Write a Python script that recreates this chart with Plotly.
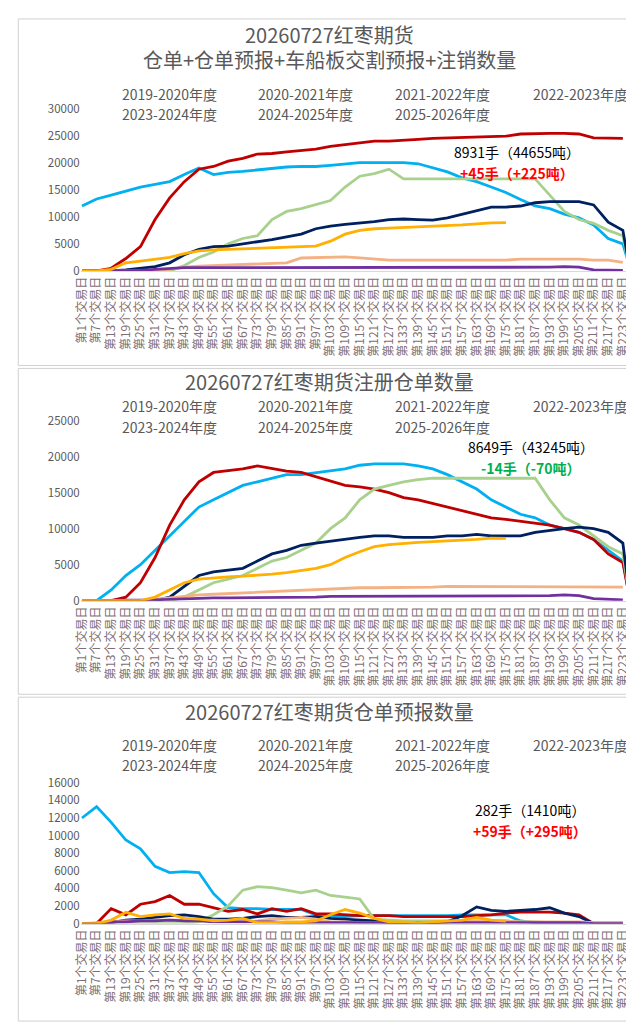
import plotly.graph_objects as go

DAYS = list(range(1, 224, 6)) + [226]
TICK_TEXT = [f"第{d}个交易日" for d in DAYS[:-1]]

SEASONS = ["2019-2020年度", "2020-2021年度", "2021-2022年度", "2022-2023年度",
           "2023-2024年度", "2024-2025年度", "2025-2026年度"]
COLORS = ["#00B0F0", "#C00000", "#A9D18E", "#002060", "#F4B183", "#7030A0", "#FFB000"]
N = None

# chart 1: 仓单+仓单预报+车船板交割预报+注销数量
P1_BLUE = [12000, 13300, 14000, 14700, 15500, 16000, 16500, 17800, 19000, 17800, 18200, 18400, 18700,
           19000, 19200, 19300, 19300, 19500, 19700, 20000, 20000, 20000, 20000, 19800, 19000, 18300,
           17200, 16500, 15500, 14500, 13200, 12000, 11500, 10500, 9800, 8500, 6000, 5000, 500]
P1_RED = [0, 0, 500, 2300, 4500, 9500, 13500, 16500, 18800, 19300, 20300, 20800, 21600, 21700, 22000,
          22300, 22500, 23000, 23300, 23700, 24000, 24000, 24100, 24300, 24500, 24600, 24700, 24700,
          24800, 24900, 25300, 25400, 25400, 25400, 25300, 24600, 24600, 24500, N]
P1_GREEN = [0, 0, 0, 0, 0, 0, 0, 1000, 2500, 3500, 5000, 6000, 6500, 9500, 11000, 11500, 12200, 13000,
            15500, 17500, 18000, 18800, 17000, 17000, 17000, 17000, 17000, 17000, 17000, 17000, 17000,
            17000, 14000, 11000, 9500, 8800, 7500, 6500, 0]
P1_NAVY = [0, 0, 0, 200, 500, 800, 1500, 3000, 4000, 4500, 4600, 5000, 5300, 5800, 6300, 6800, 7800,
           8300, 8600, 8800, 9100, 9500, 9600, 9500, 9400, 9800, 10500, 11200, 11800, 11800, 12000,
           12600, 12800, 12800, 12800, 12200, 9000, 7500, 0]
P1_SALMON = [0, 0, 0, 0, 0, 0, 300, 700, 900, 1000, 1100, 1200, 1300, 1400, 1500, 2400, 2500, 2500, 2600,
             2400, 2200, 2000, 2000, 2000, 2000, 2000, 2000, 2000, 2000, 2000, 2200, 2200, 2200, 2200,
             2200, 2000, 2000, 1600, N]
P1_PURPLE = [0, 0, 0, 0, 100, 300, 500, 600, 600, 600, 600, 600, 600, 600, 600, 600, 600, 600, 600, 600,
             700, 700, 700, 700, 700, 700, 700, 700, 700, 700, 700, 700, 700, 800, 700, 200, 100, 100, N]
P1_ORANGE = [0, 0, 300, 1500, 1800, 2200, 2500, 3200, 3700, 3900, 4000, 4200, 4200, 4300, 4400, 4500,
             4600, 5500, 6800, 7500, 7800, 7900, 8000, 8100, 8200, 8300, 8500, 8700, 8900, 8931,
             N, N, N, N, N, N, N, N, N]

# chart 2: 注册仓单数量
P2_BLUE = [0, 0, 1500, 3500, 5000, 7000, 9000, 11000, 13000, 14000, 15000, 16000, 16500, 17000, 17500,
           17500, 17800, 18000, 18300, 18800, 19000, 19000, 19000, 18700, 18300, 17500, 16500, 15500,
           14000, 13000, 12000, 11500, 10500, 10000, 9500, 8500, 7000, 5500, 0]
P2_RED = [0, 0, 0, 500, 2500, 6000, 10500, 14000, 16500, 17800, 18000, 18300, 18700, 18300, 18000,
          17800, 17200, 16500, 16000, 15800, 15500, 15000, 14300, 14000, 13500, 13000, 12500, 12000,
          11500, 11300, 11000, 10800, 10500, 10000, 9500, 8500, 6500, 5300, 0]
P2_GREEN = [0, 0, 0, 0, 0, 0, 0, 500, 1500, 2500, 3000, 3500, 4500, 5500, 6000, 7000, 8000, 10000,
            11500, 14000, 15500, 16000, 16500, 16800, 17000, 17000, 17000, 17000, 17000, 17000, 17000,
            17000, 14000, 11500, 10500, 9000, 7500, 6500, 0]
P2_NAVY = [0, 0, 0, 0, 0, 0, 500, 2000, 3500, 4000, 4200, 4500, 5500, 6500, 7000, 7700, 8000, 8300,
           8500, 8800, 9000, 9000, 8800, 8800, 8800, 9000, 9000, 9200, 9000, 9000, 9000, 9500, 9800,
           10000, 10200, 10000, 9500, 8000, 0]
P2_SALMON = [0, 0, 0, 0, 0, 200, 400, 700, 800, 900, 1000, 1100, 1200, 1300, 1400, 1500, 1600, 1700,
             1700, 1800, 1800, 1800, 1900, 1900, 1900, 2000, 2000, 2000, 2000, 2000, 2000, 2000, 2000,
             2000, 2000, 2000, 2000, 1900, N]
P2_PURPLE = [0, 0, 0, 0, 0, 100, 200, 300, 300, 400, 400, 400, 500, 500, 500, 500, 500, 600, 600, 600,
             600, 600, 600, 600, 700, 700, 700, 700, 700, 700, 700, 700, 700, 800, 700, 300, 200, 100, N]
P2_ORANGE = [0, 0, 0, 0, 0, 500, 1500, 2500, 3000, 3200, 3300, 3400, 3500, 3700, 3900, 4200, 4500, 5000,
             6000, 6800, 7500, 7800, 8000, 8100, 8200, 8300, 8300, 8500, 8700, 8649,
             N, N, N, N, N, N, N, N, N]

# chart 3: 仓单预报数量
P3_BLUE = [12000, 13300, 11500, 9500, 8500, 6500, 5800, 5900, 5800, 3400, 1800, 1700, 1700, 1600, 1600,
           1600, 1000, 900, 800, 900, 900, 900, 900, 900, 900, 900, 1000, 1000, 1000, 1000, 300, 100,
           100, 100, 100, 100, 100, 100, N]
P3_RED = [0, 0, 1700, 1000, 2200, 2500, 3200, 2200, 2200, 1800, 1400, 1600, 1100, 1700, 1400, 1700,
          1100, 1100, 1000, 900, 900, 900, 800, 800, 800, 800, 800, 900, 1000, 1200, 1300, 1300, 1300,
          1200, 1000, 0, 0, 0, N]
P3_GREEN = [0, 0, 0, 0, 0, 0, 0, 0, 200, 1000, 2000, 3800, 4200, 4100, 3800, 3500, 3800, 3200, 3000,
            2800, 500, 400, 300, 300, 300, 300, 300, 300, 300, 300, 200, 200, 100, 100, 100, 100, 100,
            100, N]
P3_NAVY = [0, 0, 100, 400, 500, 700, 900, 1000, 800, 500, 500, 600, 800, 900, 700, 700, 800, 600, 500,
           400, 300, 100, 100, 0, 100, 200, 900, 1900, 1500, 1400, 1500, 1600, 1800, 1200, 800, 0, 0, 0, N]
P3_SALMON = [0, 100, 200, 300, 300, 400, 400, 400, 400, 400, 300, 200, 300, 500, 600, 700, 500, 200, 200,
             100, 100, 100, 100, 100, 200, 200, 200, 300, 300, 300, 200, 200, 200, 200, 200, 100, 100,
             100, N]
P3_PURPLE = [0, 0, 200, 200, 300, 300, 400, 300, 300, 200, 200, 200, 200, 200, 100, 100, 100, 100, 100,
             100, 100, 100, 100, 100, 100, 100, 100, 100, 100, 100, 100, 100, 100, 100, 100, 0, 0, 0, N]
P3_ORANGE = [0, 0, 400, 1300, 800, 1000, 1100, 600, 500, 300, 400, 600, 100, 100, 200, 200, 300, 1000,
             1600, 1200, 600, 200, 200, 100, 200, 300, 400, 700, 400, 282, N, N, N, N, N, N, N, N, N]

PANELS = [
    [P1_BLUE, P1_RED, P1_GREEN, P1_NAVY, P1_SALMON, P1_PURPLE, P1_ORANGE],
    [P2_BLUE, P2_RED, P2_GREEN, P2_NAVY, P2_SALMON, P2_PURPLE, P2_ORANGE],
    [P3_BLUE, P3_RED, P3_GREEN, P3_NAVY, P3_SALMON, P3_PURPLE, P3_ORANGE],
]
Y_MAX = [30000, 25000, 16000]
Y_DTICK = [5000, 5000, 2000]

H = 1023
def py(px):
    return 1 - px / H

# (plot top px, plot bottom px) for each panel
PLOT_PX = [(93, 258), (410, 593), (778, 921)]

fig = go.Figure()
layout = dict(width=634, height=H, margin=dict(l=0, r=0, t=0, b=0),
              plot_bgcolor="white", paper_bgcolor="white", showlegend=False,
              font=dict(family="Noto Sans CJK SC", color="#595959"))
for i, series in enumerate(PANELS):
    xa = "x" if i == 0 else f"x{i+1}"
    ya = "y" if i == 0 else f"y{i+1}"
    for name, col, vals in zip(SEASONS, COLORS, series):
        fig.add_trace(go.Scatter(x=DAYS, y=vals, mode="lines", name=name, xaxis=xa, yaxis=ya,
                                 line=dict(color=col, width=2.8)))
    top, bot = PLOT_PX[i]
    layout["xaxis" if i == 0 else f"xaxis{i+1}"] = dict(
        domain=[0.102, 0.983], range=[0.5, 226.5], anchor=ya, tickvals=DAYS[:-1], ticktext=TICK_TEXT,
        tickangle=-90, tickfont=dict(size=12, color="#7f6f75"), showgrid=False, showline=True,
        linecolor="#d9d9d9", ticks="")
    layout["yaxis" if i == 0 else f"yaxis{i+1}"] = dict(
        domain=[py(bot), py(top)], range=[0, Y_MAX[i]], dtick=Y_DTICK[i], anchor=xa, tickformat="d",
        tickfont=dict(size=11.5, color="#595959"), showgrid=False, zeroline=False)
fig.update_layout(**layout)

def txt(x, y, s, size=14, color="#595959", bold=False):
    fig.add_annotation(x=x / 634, y=py(y), xref="paper", yref="paper", text=f"<b>{s}</b>" if bold else s,
                       showarrow=False, font=dict(size=size, color=color), xanchor="center", yanchor="middle")

TITLES = [["20260727红枣期货", "仓单+仓单预报+车船板交割预报+注销数量"],
          ["20260727红枣期货注册仓单数量"], ["20260727红枣期货仓单预报数量"]]
TITLE_Y = [[18, 43], [370], [706]]
LEGEND_Y = [(78, 99), (395, 417), (740, 760)]
LEG_X = [155, 293, 432, 572]
NOTES = [("8931手（44655吨）", "+45手（+225吨）", "#FF0000", 507, 137),
         ("8649手（43245吨）", "-14手（-70吨）", "#00B050", 521, 437),
         ("282手（1410吨）", "+59手（+295吨）", "#FF0000", 520, 806)]

for i in range(3):
    for t, y in zip(TITLES[i], TITLE_Y[i]):
        txt(317, y, t, size=20)
    for j, s in enumerate(SEASONS):
        txt(LEG_X[j % 4], LEGEND_Y[i][j // 4], s, size=14)
    a, b, c, x, y = NOTES[i]
    txt(x, y, a, size=14, color="#000000")
    txt(x, y + 21, b, size=14, color=c, bold=True)

for top, bot in [(2, 354), (357, 688), (691, 1020)]:
    fig.add_shape(type="rect", xref="paper", yref="paper", x0=0.002, x1=0.998, y0=py(bot), y1=py(top),
                  line=dict(color="#d0d0d0", width=1))

fig.write_html("out.html")
